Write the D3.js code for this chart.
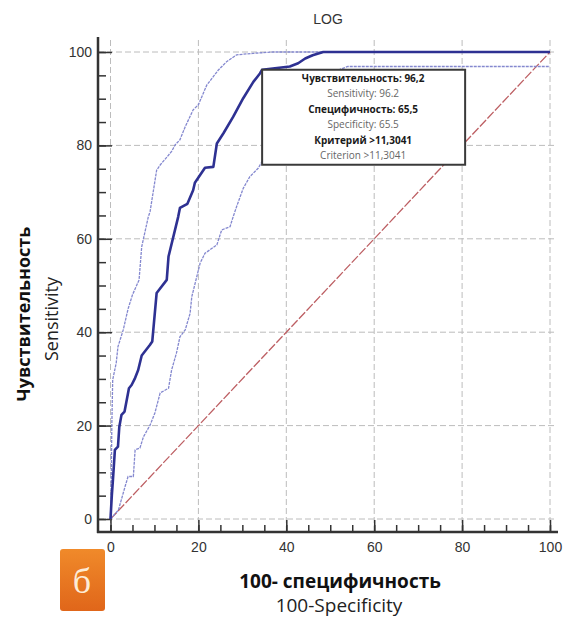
<!DOCTYPE html>
<html lang="ru">
<head>
<meta charset="utf-8">
<title>LOG ROC</title>
<script src="https://cdn.jsdelivr.net/npm/d3@7"></script>
<style>
  body { margin: 0; background: #fff; }
  svg { display: block; }
</style>
</head>
<body>
<script>
// ROC curve (100-specificity, sensitivity)
var rocX = [0, 0.3, 0.6, 1, 1.7, 2.0, 2.5, 3.2, 4.2, 4.8, 5.5, 6.3, 7.1, 9, 9.5, 10.5, 12.8, 13.2, 15.4, 15.8, 17.5, 18.8, 19.2, 21.5, 23.4, 24.2, 25.7, 27.9, 30.2, 32.5, 34, 34.5, 40.8, 42.7, 44.3, 46, 48.4, 100];
var rocY = [0, 5, 9, 14.8, 15.5, 19.7, 22.3, 23, 28, 28.7, 30, 31.9, 35, 37.3, 38, 48.4, 51.2, 56.2, 64.7, 66.6, 67.5, 70.4, 72, 75.2, 75.4, 80.4, 82.6, 86.1, 90.1, 93.6, 95.4, 96.2, 96.9, 97.6, 98.6, 99.3, 100, 100];
// upper confidence band
var upperX = [0, 0.2, 0.3, 0.5, 1.3, 1.7, 2.9, 4, 5, 6.5, 7.1, 8.6, 9, 10.5, 11.3, 13.9, 14.7, 15.8, 17, 18.8, 20, 21.9, 24.5, 26.4, 28.7, 32.4, 37, 100];
var upperY = [0, 10, 20, 29.8, 33.4, 36.9, 40.5, 45, 48, 51.2, 58.3, 64.7, 65.8, 74.7, 75.8, 78.7, 80.1, 81.2, 84, 87.6, 88.7, 92.9, 96.1, 97.9, 99.4, 99.7, 100, 100];
// lower confidence band
var lowerX = [0, 1.8, 3.3, 4, 5.2, 5.6, 6.7, 7.5, 9, 10.1, 11.3, 13.2, 13.9, 15, 15.8, 17, 18.1, 18.5, 20.4, 21.5, 24.2, 25.3, 27.2, 27.9, 28.7, 30.2, 31.7, 33.6, 36, 39, 42, 46, 50, 54, 100];
var lowerY = [0, 1.9, 6.9, 9.1, 9.1, 14.8, 15.2, 17.6, 20.1, 22.7, 27, 28, 31.9, 35.5, 39, 40.5, 44, 47.6, 54.8, 56.9, 58.7, 61.9, 62.6, 64.7, 66.9, 70.8, 73.3, 75.1, 79, 84, 88.5, 92.5, 95.5, 96.9, 96.9];

var xTicks = [0, 20, 40, 60, 80, 100];
var yTicks = [0, 20, 40, 60, 80, 100];
var minorTicks = d3.range(0, 101, 5);

var cutX = 34.5, cutY = 96.2; // criterion point
var boxLines = [
  {t: "Чувствительность: 96,2", b: true},
  {t: "Sensitivity: 96.2", b: false},
  {t: "Специфичность: 65,5", b: true},
  {t: "Specificity: 65.5", b: false},
  {t: "Критерий >11,3041", b: true},
  {t: "Criterion >11,3041", b: false}
];

var svg = d3.select("body").append("svg")
    .attr("width", 566)
    .attr("height", 623);

var x = d3.scaleLinear().domain([0, 100]).range([110.5, 550]);
var y = d3.scaleLinear().domain([0, 100]).range([519, 52]);

var axisLeftX = 98, axisBottomY = 532;

// title
svg.append("text")
    .attr("x", 328).attr("y", 24)
    .attr("text-anchor", "middle")
    .attr("font-family", "Liberation Sans, Arial, sans-serif")
    .attr("font-size", 14)
    .attr("fill", "#333")
    .text("LOG");

// grid
var grid = svg.append("g")
    .attr("stroke", "#bcbcbc")
    .attr("stroke-width", 1)
    .attr("stroke-dasharray", "6,3");
grid.selectAll(".gx").data(xTicks).enter().append("line")
    .attr("x1", function(d) { return x(d); })
    .attr("x2", function(d) { return x(d); })
    .attr("y1", 40).attr("y2", axisBottomY);
grid.selectAll(".gy").data(yTicks).enter().append("line")
    .attr("y1", function(d) { return y(d); })
    .attr("y2", function(d) { return y(d); })
    .attr("x1", axisLeftX).attr("x2", 557);

// axes
var gy = svg.append("g").attr("transform", "translate(" + axisLeftX + ",0)");
gy.call(d3.axisLeft(y).tickValues(minorTicks).tickSize(-8).tickFormat(""));
gy.select(".domain").remove();
var gy2 = svg.append("g").attr("transform", "translate(" + axisLeftX + ",0)");
gy2.call(d3.axisLeft(y).tickValues(yTicks).tickSize(-14).tickPadding(6));
gy2.select(".domain").remove();

var gx = svg.append("g").attr("transform", "translate(0," + axisBottomY + ")");
gx.call(d3.axisBottom(x).tickValues(minorTicks).tickSize(-7).tickFormat(""));
gx.select(".domain").remove();
var gx2 = svg.append("g").attr("transform", "translate(0," + axisBottomY + ")");
gx2.call(d3.axisBottom(x).tickValues(xTicks).tickSize(-12).tickPadding(10));
gx2.select(".domain").remove();

svg.selectAll(".tick line").attr("stroke", "#333").attr("stroke-width", 1.5);
svg.selectAll(".tick text")
    .attr("font-family", "Liberation Sans, Arial, sans-serif")
    .attr("font-size", 14)
    .attr("fill", "#333");

svg.append("line")
    .attr("x1", axisLeftX).attr("x2", axisLeftX)
    .attr("y1", 37).attr("y2", axisBottomY + 1)
    .attr("stroke", "#333").attr("stroke-width", 2.5);
svg.append("line")
    .attr("x1", axisLeftX - 1).attr("x2", 558)
    .attr("y1", axisBottomY).attr("y2", axisBottomY)
    .attr("stroke", "#333").attr("stroke-width", 2.5);

// reference diagonal
svg.append("line")
    .attr("x1", x(0)).attr("y1", y(0))
    .attr("x2", x(100)).attr("y2", y(100))
    .attr("stroke", "#bd5f63")
    .attr("stroke-width", 1.3)
    .attr("stroke-dasharray", "9,2");

var line = d3.line()
    .x(function(d) { return x(d[0]); })
    .y(function(d) { return y(d[1]); });

function pts(xs, ys) { return xs.map(function(v, i) { return [v, ys[i]]; }); }

svg.append("path")
    .attr("d", line(pts(upperX, upperY)))
    .attr("fill", "none")
    .attr("stroke", "#8488cf")
    .attr("stroke-width", 1.3)
    .attr("stroke-dasharray", "3,1");
svg.append("path")
    .attr("d", line(pts(lowerX, lowerY)))
    .attr("fill", "none")
    .attr("stroke", "#8488cf")
    .attr("stroke-width", 1.3)
    .attr("stroke-dasharray", "3,1");
svg.append("path")
    .attr("d", line(pts(rocX, rocY)))
    .attr("fill", "none")
    .attr("stroke", "#2e3192")
    .attr("stroke-width", 2.6)
    .attr("stroke-linejoin", "round");

// criterion box
var bx = x(cutX), by = y(cutY);
svg.append("rect")
    .attr("x", bx).attr("y", by)
    .attr("width", 203).attr("height", 95)
    .attr("fill", "#fff")
    .attr("stroke", "#3a3a3a")
    .attr("stroke-width", 2);
svg.append("g")
    .attr("font-family", "Open Sans, Noto Sans, sans-serif")
    .attr("font-size", 10)
    .attr("text-anchor", "middle")
    .selectAll("text")
    .data(boxLines)
    .enter().append("text")
    .attr("x", bx + 101)
    .attr("y", function(d, i) { return by + 12 + i * 15.5; })
    .attr("font-weight", function(d) { return d.b ? "bold" : "normal"; })
    .attr("fill", function(d) { return d.b ? "#1a1a1a" : "#666"; })
    .text(function(d) { return d.t; });

// axis titles
svg.append("text")
    .attr("x", 340).attr("y", 588)
    .attr("text-anchor", "middle")
    .attr("font-family", "Open Sans, Noto Sans, sans-serif")
    .attr("font-size", 19)
    .attr("font-weight", "bold")
    .attr("fill", "#111")
    .text("100- специфичность");
svg.append("text")
    .attr("x", 339).attr("y", 612)
    .attr("text-anchor", "middle")
    .attr("font-family", "Open Sans, Noto Sans, sans-serif")
    .attr("font-size", 19)
    .attr("fill", "#222")
    .text("100-Specificity");

svg.append("text")
    .attr("transform", "translate(30,314) rotate(-90)")
    .attr("text-anchor", "middle")
    .attr("font-family", "Open Sans, Noto Sans, sans-serif")
    .attr("font-size", 18)
    .attr("font-weight", "bold")
    .attr("fill", "#111")
    .text("Чувствительность");
svg.append("text")
    .attr("transform", "translate(58,319) rotate(-90)")
    .attr("text-anchor", "middle")
    .attr("font-family", "Open Sans, Noto Sans, sans-serif")
    .attr("font-size", 18)
    .attr("fill", "#222")
    .text("Sensitivity");

// panel badge
var grad = svg.append("defs").append("linearGradient")
    .attr("id", "badge").attr("x1", 0).attr("y1", 0).attr("x2", 0).attr("y2", 1);
grad.append("stop").attr("offset", 0).attr("stop-color", "#f08a2a");
grad.append("stop").attr("offset", 1).attr("stop-color", "#e0661a");
svg.append("rect")
    .attr("x", 60).attr("y", 549)
    .attr("width", 45).attr("height", 62)
    .attr("rx", 3)
    .attr("fill", "url(#badge)");
svg.append("text")
    .attr("x", 82).attr("y", 593)
    .attr("text-anchor", "middle")
    .attr("font-family", "Liberation Serif, DejaVu Serif, serif")
    .attr("font-size", 36)
    .attr("fill", "#fdebd6")
    .text("б");
</script>
</body>
</html>
